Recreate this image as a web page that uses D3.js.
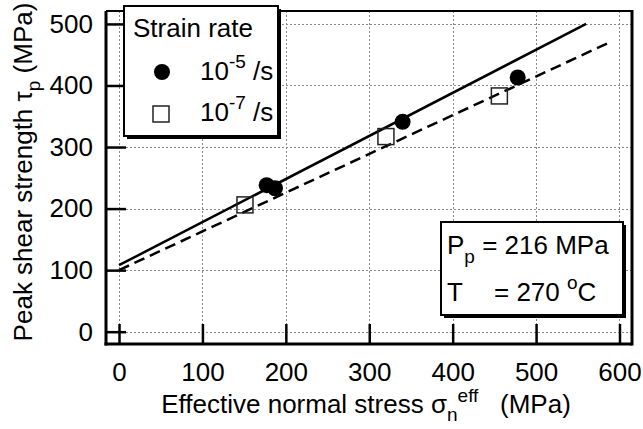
<html>
<head>
<script src="https://d3js.org/d3.v7.min.js"></script>
<style>
  body { margin: 0; background: #fff; }
  svg text { font-family: "Liberation Sans", Arial, sans-serif; font-size: 26px; fill: #000; }
</style>
</head>
<body>
<script>
// data
var fastStress   = [177, 187, 340, 478];   // 10^-5 /s, filled circles
var fastStrength = [238, 233, 341, 413];
var slowStress   = [151, 320, 456];        // 10^-7 /s, open squares
var slowStrength = [206, 317, 383];
// fitted lines (end points)
var fastFitStress = [0, 560], fastFitStrength = [108, 500];
var slowFitStress = [0, 588], slowFitStrength = [100, 470];
var xTicks = [0, 100, 200, 300, 400, 500, 600];
var yTicks = [0, 100, 200, 300, 400, 500];

var width = 643, height = 429;
var pLeft = 106, pTop = 11, pRight = 632, pBottom = 344;

var svg = d3.select("body").append("svg")
  .attr("width", width).attr("height", height);

var x = d3.scaleLinear().domain([-15.6, 615]).range([pLeft, pRight]);
var y = d3.scaleLinear().domain([-20, 521]).range([pBottom, pTop]);

// grid
var grid = svg.append("g").attr("stroke", "#8a8a8a").attr("stroke-width", 1).attr("stroke-dasharray", "2,2");
grid.selectAll(".gx").data(xTicks).enter().append("line")
  .attr("x1", d => Math.round(x(d)) + 0.5).attr("x2", d => Math.round(x(d)) + 0.5)
  .attr("y1", pTop).attr("y2", pBottom);
grid.selectAll(".gy").data(yTicks).enter().append("line")
  .attr("y1", d => Math.round(y(d)) + 0.5).attr("y2", d => Math.round(y(d)) + 0.5)
  .attr("x1", pLeft).attr("x2", pRight);

// frame top/right
svg.append("line").attr("x1", pLeft).attr("x2", pRight).attr("y1", pTop).attr("y2", pTop)
  .attr("stroke", "#000").attr("stroke-width", 2);
svg.append("line").attr("x1", pRight).attr("x2", pRight).attr("y1", pTop - 1).attr("y2", pBottom + 1.5)
  .attr("stroke", "#000").attr("stroke-width", 3);

// axes
var xAxis = svg.append("g").attr("transform", "translate(0," + pBottom + ")")
  .call(d3.axisBottom(x).tickValues(xTicks).tickSizeInner(-20).tickSizeOuter(0).tickPadding(19));
var yAxis = svg.append("g").attr("transform", "translate(" + pLeft + ",0)")
  .call(d3.axisLeft(y).tickValues(yTicks).tickSizeInner(-20).tickSizeOuter(0).tickPadding(13));
[xAxis, yAxis].forEach(function(a) {
  a.select(".domain").attr("stroke-width", 3);
  a.selectAll(".tick line").attr("stroke-width", 2.5);
  a.selectAll("text").attr("font-size", null).attr("font-family", null);
});
xAxis.select(".domain").attr("d", "M" + (pLeft - 1.5) + ",0H" + pRight);
yAxis.select(".domain").attr("d", "M0," + pTop + "V" + (pBottom + 1.5));

// fit lines
var line = d3.line().x(d => x(d[0])).y(d => y(d[1]));
svg.append("path").attr("d", line(d3.zip(fastFitStress, fastFitStrength)))
  .attr("fill", "none").attr("stroke", "#000").attr("stroke-width", 2.5);
svg.append("path").attr("d", line(d3.zip(slowFitStress, slowFitStrength)))
  .attr("fill", "none").attr("stroke", "#000").attr("stroke-width", 2.5)
  .attr("stroke-dasharray", "11,6");

// points
svg.selectAll(".fast").data(d3.zip(fastStress, fastStrength)).enter().append("circle")
  .attr("cx", d => x(d[0])).attr("cy", d => y(d[1])).attr("r", 8).attr("fill", "#000");
svg.selectAll(".slow").data(d3.zip(slowStress, slowStrength)).enter().append("rect")
  .attr("x", d => x(d[0]) - 8).attr("y", d => y(d[1]) - 8).attr("width", 16).attr("height", 16)
  .attr("fill", "none").attr("stroke", "#222").attr("stroke-width", 1.5);

// legend
var lg = svg.append("g");
lg.append("rect").attr("x", 127).attr("y", 9).attr("width", 154).attr("height", 130).attr("fill", "#000");
lg.append("rect").attr("x", 124).attr("y", 6).attr("width", 154).attr("height", 130)
  .attr("fill", "#fff").attr("stroke", "#000").attr("stroke-width", 2);
lg.append("text").attr("x", 133).attr("y", 37).text("Strain rate");
lg.append("circle").attr("cx", 162).attr("cy", 72).attr("r", 8).attr("fill", "#000");
lg.append("rect").attr("x", 153).attr("y", 106).attr("width", 16).attr("height", 16)
  .attr("fill", "none").attr("stroke", "#222").attr("stroke-width", 1.5);
[["-5", 80], ["-7", 121]].forEach(function(e) {
  var t = lg.append("text").attr("x", 200).attr("y", e[1]);
  t.append("tspan").text("10");
  t.append("tspan").attr("dy", -12).attr("font-size", 19).text(e[0]);
  t.append("tspan").attr("dy", 12).text(" /s");
});

// condition box
var cb = svg.append("g");
cb.append("rect").attr("x", 444).attr("y", 225).attr("width", 182).attr("height", 93).attr("fill", "#000");
cb.append("rect").attr("x", 441).attr("y", 222).attr("width", 182).attr("height", 93)
  .attr("fill", "#fff").attr("stroke", "#000").attr("stroke-width", 2);
var t1 = cb.append("text").attr("x", 447).attr("y", 254);
t1.append("tspan").text("P");
t1.append("tspan").attr("dy", 9).attr("font-size", 19).text("p");
t1.append("tspan").attr("dy", -9).text(" = 216 MPa");
var t2 = cb.append("text").attr("x", 447).attr("y", 301);
t2.append("tspan").text("T");
t2.append("tspan").attr("x", 494).text("= 270 ");
t2.append("tspan").attr("dy", -12).attr("font-size", 19).text("o");
t2.append("tspan").attr("dy", 12).text("C");

// axis titles
var xl = svg.append("text").attr("x", 366).attr("y", 413).attr("text-anchor", "middle")
  .attr("font-size", 27);
xl.append("tspan").text("Effective normal stress \u03c3");
xl.append("tspan").attr("dy", 8).attr("font-size", 19).text("n");
xl.append("tspan").attr("dy", -19).attr("font-size", 19).text("eff");
xl.append("tspan").attr("dy", 11).text("\u00a0\u00a0\u00a0(MPa)");

var yl = svg.append("text").attr("transform", "translate(32,172) rotate(-90)").attr("text-anchor", "middle");
yl.append("tspan").text("Peak shear strength \u03c4");
yl.append("tspan").attr("dy", 8).attr("font-size", 19).text("p");
yl.append("tspan").attr("dy", -8).text(" (MPa)");
</script>
</body>
</html>
